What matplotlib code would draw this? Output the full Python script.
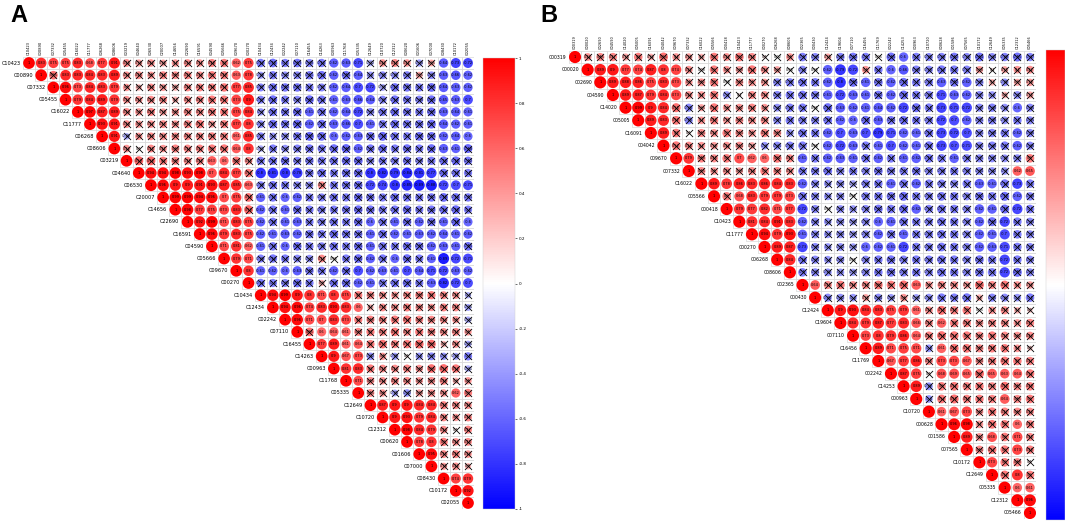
import numpy as np
import matplotlib
matplotlib.use("Agg")
import matplotlib.pyplot as plt
from matplotlib.patches import Circle, Rectangle
from matplotlib.collections import PatchCollection
from matplotlib.cm import ScalarMappable
from matplotlib.colors import Normalize

plt.rcParams['font.family'] = ['DejaVu Sans']

# ---- panel A ----
labels_a = ["C10423", "C00890", "C07332", "C05455", "C16022", "C11777", "C06268", "C08606",
            "C03219", "C04640", "C06530", "C20007", "C14656", "C22690", "C16591", "C04590",
            "C05666", "C09670", "C00270", "C10434", "C12434", "C02242", "C07110", "C16455",
            "C14263", "C00963", "C11768", "C05335", "C12649", "C10720", "C12312", "C00620",
            "C01606", "C07000", "C08430", "C10172", "C02055"]

# upper triangle, row i holds r(i, j) for j > i
upper_a = [
    [0.83, 0.75, 0.75, 0.83, 0.68, 0.77, 0.91, 0.45, 0.38, 0.42, 0.36, 0.40, 0.44, 0.41, 0.48, 0.50, 0.62, 0.75,
     -0.52, -0.55, -0.50, -0.53, -0.48, -0.51, -0.62, -0.63, -0.71, -0.32, 0.42, 0.46, 0.41, -0.38, 0.35, -0.64, -0.73, -0.72],
    [0.55, 0.83, 0.83, 0.84, 0.83, 0.89, 0.42, 0.45, 0.40, 0.46, 0.44, 0.47, 0.43, 0.50, 0.49, 0.63, 0.78,
     -0.38, -0.50, -0.42, -0.45, -0.51, -0.54, -0.62, -0.55, -0.64, -0.40, -0.45, -0.42, -0.48, 0.35, -0.44, -0.63, -0.66, -0.62],
    [0.96, 0.73, 0.84, 0.83, 0.79, 0.40, 0.30, 0.44, 0.38, 0.32, 0.45, 0.47, 0.48, 0.52, 0.77, 0.85,
     -0.47, -0.53, -0.52, -0.53, -0.50, -0.47, -0.62, -0.64, -0.70, -0.72, -0.35, -0.54, -0.52, -0.50, -0.56, -0.64, -0.63, -0.62],
    [0.79, 0.84, 0.89, 0.79, 0.42, 0.41, 0.44, 0.45, 0.30, 0.43, 0.46, 0.50, 0.51, 0.73, 0.90,
     -0.47, -0.55, -0.50, -0.45, -0.56, -0.52, -0.61, -0.63, -0.66, -0.64, -0.47, -0.54, -0.51, -0.48, -0.55, -0.65, -0.63, -0.70],
    [0.97, 0.87, 0.89, 0.44, 0.40, 0.48, 0.38, 0.41, 0.46, 0.45, 0.49, 0.50, 0.75, 0.84,
     -0.40, -0.52, -0.51, -0.56, -0.61, -0.53, -0.62, -0.64, -0.72, -0.45, -0.51, -0.55, -0.52, -0.50, -0.55, -0.63, -0.64, -0.61],
    [0.93, 0.91, 0.44, 0.40, 0.42, 0.45, 0.42, 0.47, 0.52, 0.38, 0.48, 0.77, 0.80,
     -0.44, -0.55, -0.52, -0.58, -0.62, -0.55, -0.63, -0.66, -0.70, -0.61, -0.50, -0.55, -0.53, -0.52, -0.57, -0.64, -0.62, -0.61],
    [0.91, -0.32, 0.40, 0.44, 0.42, 0.44, 0.45, 0.46, 0.48, 0.47, 0.61, 0.85,
     -0.47, -0.40, -0.42, -0.52, -0.58, -0.56, -0.60, -0.62, -0.63, -0.55, -0.58, -0.52, -0.50, -0.56, -0.55, -0.62, -0.64, -0.60],
    [0.42, 0.10, 0.45, 0.41, 0.48, 0.46, 0.47, 0.50, 0.52, 0.64, 0.80,
     -0.31, -0.50, -0.42, -0.48, -0.52, -0.50, -0.55, -0.58, -0.62, -0.52, -0.55, -0.50, -0.54, -0.50, -0.56, -0.63, -0.61, -0.58],
    [0.59, 0.58, 0.50, 0.47, 0.45, 0.48, 0.63, 0.60, 0.52, 0.45,
     -0.50, -0.52, -0.54, -0.48, -0.51, -0.50, -0.53, -0.55, -0.57, -0.45, -0.50, -0.48, -0.52, -0.46, -0.50, -0.55, -0.56, -0.52],
    [0.94, 0.94, 0.98, 0.93, 0.98, 0.70, 0.84, 0.77, 0.52,
     -0.80, -0.81, -0.80, -0.78, -0.52, -0.55, -0.50, -0.54, -0.57, -0.80, -0.82, -0.79, -0.84, -0.81, -0.77, -0.55, -0.52, -0.50],
    [0.96, 0.90, 0.90, 0.91, 0.93, 0.87, 0.85, 0.63,
     -0.48, -0.52, -0.50, -0.45, -0.42, 0.45, -0.50, -0.53, -0.55, -0.72, -0.74, -0.80, -0.85, -0.89, -0.88, -0.72, -0.70, -0.71],
    [0.99, 0.99, 0.94, 0.96, 0.70, 0.75, 0.55,
     -0.61, -0.52, -0.60, -0.62, -0.50, -0.48, -0.52, -0.50, -0.55, -0.52, -0.50, -0.55, -0.53, -0.50, -0.52, -0.56, -0.54, -0.51],
    [0.98, 0.77, 0.75, 0.73, 0.83, 0.58,
     -0.62, -0.52, -0.61, -0.55, -0.50, -0.48, -0.50, -0.52, -0.55, -0.53, -0.50, -0.52, -0.55, -0.50, -0.52, -0.54, -0.56, -0.50],
    [0.92, 0.99, 0.71, 0.83, 0.75,
     -0.62, -0.52, -0.61, -0.63, -0.50, -0.48, -0.52, -0.50, -0.55, -0.60, -0.52, -0.61, -0.55, -0.62, -0.54, -0.61, -0.58, -0.60],
    [0.96, 0.79, 0.83, 0.75,
     -0.62, -0.61, -0.63, -0.62, -0.52, -0.50, -0.55, -0.53, -0.52, -0.61, -0.55, -0.62, -0.61, -0.63, -0.62, -0.64, -0.61, -0.62],
    [0.71, 0.81, 0.62,
     -0.61, -0.52, -0.60, -0.55, -0.50, -0.48, -0.52, -0.50, -0.55, -0.61, -0.52, -0.50, -0.55, -0.53, -0.62, -0.63, -0.61, -0.55],
    [0.79, 0.71,
     -0.48, -0.52, -0.50, -0.45, -0.42, 0.45, 0.05, -0.50, -0.55, -0.62, -0.52, -0.60, -0.55, -0.50, -0.61, -0.89, -0.72, -0.71],
    [0.80,
     -0.61, -0.62, -0.60, -0.63, -0.52, -0.50, -0.62, -0.55, -0.70, -0.62, -0.63, -0.61, -0.70, -0.64, -0.71, -0.72, -0.63, -0.62],
    [-0.52, -0.50, -0.48, -0.55, -0.50, 0.30, -0.52, -0.55, -0.62, -0.61, -0.50, -0.52, -0.55, -0.50, -0.63, -0.82, -0.72, -0.70],
    [0.94, 0.99, 0.90, 0.80, 0.71, 0.80, 0.75, 0.50, 0.45, 0.42, 0.40, 0.44, 0.48, 0.50, 0.46, 0.41, -0.30],
    [0.94, 0.96, 0.74, 0.83, 0.93, 0.83, 0.60, 0.30, 0.45, 0.42, 0.48, 0.44, 0.41, 0.47, 0.45, -0.35],
    [0.96, 0.71, 0.70, 0.83, 0.73, 0.50, 0.48, 0.46, 0.50, 0.52, 0.47, 0.45, 0.44, 0.40, -0.32],
    [0.55, 0.60, 0.64, 0.61, 0.48, 0.50, 0.47, 0.52, 0.45, 0.50, 0.48, 0.44, 0.46, 0.40],
    [0.77, 0.89, 0.61, 0.64, 0.50, 0.55, 0.48, 0.52, 0.57, 0.56, 0.30, 0.42, -0.35],
    [0.90, 0.67, 0.73, -0.42, 0.40, -0.38, 0.10, -0.40, -0.45, -0.40, -0.36, -0.50],
    [0.81, 0.83, 0.50, 0.45, 0.44, 0.47, 0.42, 0.55, 0.57, 0.52, -0.31],
    [0.71, 0.45, 0.42, 0.46, 0.44, 0.41, 0.43, 0.48, 0.30, 0.40],
    [0.45, 0.40, -0.35, -0.42, 0.38, 0.42, 0.41, 0.62, 0.50],
    [0.87, 0.90, 0.90, 0.84, 0.84, 0.48, 0.45, 0.42],
    [0.90, 0.93, 0.79, 0.84, 0.45, 0.40, 0.46],
    [0.98, 0.84, 0.79, 0.44, 0.10, 0.47],
    [0.78, 0.80, 0.50, 0.42, 0.45],
    [0.95, 0.45, 0.47, 0.42],
    [0.38, 0.42, 0.30],
    [0.74, 0.79],
    [0.92],
    [],
]

# ---- panel B ----
labels_b = ["C00319", "C00020", "C02690", "C04590", "C14020", "C05005", "C16091", "C04042",
            "C09670", "C07332", "C16022", "C05566", "C00418", "C10423", "C11777", "C00270",
            "C06268", "C08606", "C02365", "C00430", "C12424", "C19604", "C07110", "C16456",
            "C11769", "C02242", "C14253", "C00963", "C10720", "C00628", "C01586", "C07565",
            "C10172", "C12649", "C05335", "C12312", "C05466"]

upper_b = [
    [0.42, 0.45, 0.47, 0.35, 0.50, 0.32, 0.55, 0.40, 0.38, 0.30, 0.50, 0.42, 0.52, 0.45, 0.10, 0.02, 0.40,
     -0.50, -0.45, 0.35, -0.48, -0.52, -0.50, 0.05, -0.55, -0.60, -0.50, -0.45, -0.48, -0.52, -0.46, -0.54, -0.44, -0.48, -0.55, -0.47],
    [0.89, 0.90, 0.77, 0.74, 0.87, 0.80, 0.74, 0.42, 0.08, 0.50, 0.40, 0.38, 0.52, 0.42, 0.35, 0.05,
     -0.45, 0.05, -0.62, -0.79, -0.72, 0.40, -0.50, -0.60, -0.66, -0.48, -0.45, -0.52, -0.50, -0.47, 0.38, 0.10, 0.35, 0.40, 0.42],
    [0.89, 0.88, 0.86, 0.75, 0.83, 0.73, 0.40, 0.42, 0.50, 0.05, 0.44, 0.40, 0.38, -0.45, -0.48,
     -0.52, -0.50, -0.62, -0.80, -0.55, -0.61, -0.52, -0.62, -0.55, -0.50, -0.48, -0.63, -0.52, -0.62, -0.46, 0.30, -0.42, 0.35, 0.38],
    [0.89, 0.87, 0.79, 0.84, 0.73, 0.42, 0.40, 0.50, -0.40, 0.10, 0.44, 0.42, -0.46, -0.50,
     -0.52, -0.48, -0.61, -0.72, -0.63, -0.61, -0.52, -0.62, -0.55, -0.50, -0.48, -0.71, -0.63, -0.62, -0.45, -0.40, 0.30, -0.42, 0.35],
    [0.99, 0.90, 0.84, 0.55, -0.45, 0.35, 0.52, 0.40, 0.42, 0.46, 0.40, -0.42, -0.48,
     -0.50, 0.05, -0.55, -0.63, -0.62, -0.61, -0.64, -0.62, -0.72, -0.55, -0.50, -0.73, -0.71, -0.72, -0.45, -0.48, -0.42, -0.60, -0.45],
    [0.89, 0.83, 0.52, -0.45, 0.40, 0.48, 0.38, 0.45, 0.42, 0.44, -0.43, -0.50,
     -0.48, -0.45, -0.52, -0.62, -0.60, -0.55, -0.63, -0.52, -0.55, -0.50, -0.48, -0.72, -0.70, -0.62, -0.45, -0.48, -0.42, -0.50, -0.45],
    [0.89, 0.50, 0.10, 0.45, 0.42, 0.50, 0.44, 0.40, 0.48, 0.45, -0.40,
     -0.52, -0.50, -0.62, -0.70, -0.63, -0.70, -0.79, -0.71, -0.62, -0.61, -0.52, -0.73, -0.72, -0.70, -0.45, -0.48, -0.50, -0.62, -0.46],
    [0.52, 0.45, 0.40, 0.38, 0.42, 0.44, 0.35, -0.40, -0.45, -0.48,
     -0.50, 0.05, -0.62, -0.72, -0.63, -0.50, -0.61, -0.70, -0.62, -0.61, -0.52, -0.73, -0.70, -0.71, -0.45, -0.48, -0.50, -0.62, -0.46],
    [0.79, 0.48, 0.45, 0.50, 0.70, 0.62, 0.60, 0.52, 0.45,
     -0.61, -0.50, -0.62, -0.63, -0.61, -0.52, -0.62, -0.50, -0.61, -0.62, -0.52, -0.50, -0.61, -0.48, -0.45, -0.44, -0.42, -0.45, 0.50],
    [0.45, 0.40, 0.42, 0.38, 0.44, 0.50, 0.45, 0.42,
     -0.50, -0.48, -0.52, -0.45, -0.50, -0.46, -0.52, -0.48, -0.50, -0.52, -0.45, -0.48, -0.50, -0.46, -0.44, -0.42, -0.40, 0.62, 0.65],
    [0.89, 0.78, 0.86, 0.83, 0.86, 0.84, 0.83,
     -0.62, -0.45, -0.40, -0.42, -0.35, -0.48, -0.50, -0.61, -0.52, -0.62, -0.50, -0.48, -0.45, -0.50, -0.63, -0.61, -0.52, -0.73, -0.50],
    [0.50, 0.68, 0.83, 0.79, 0.79, 0.73,
     -0.52, -0.45, -0.40, -0.42, 0.05, -0.48, -0.50, -0.52, -0.55, -0.50, -0.48, -0.52, -0.50, -0.45, -0.52, -0.50, -0.55, -0.62, -0.48],
    [0.79, 0.77, 0.82, 0.71, 0.77,
     -0.72, -0.45, 0.05, -0.42, -0.40, -0.45, -0.52, -0.50, -0.55, -0.62, -0.48, -0.52, -0.50, -0.45, -0.62, -0.61, -0.55, -0.72, -0.50],
    [0.81, 0.84, 0.91, 0.83,
     -0.62, -0.45, -0.40, -0.42, -0.38, -0.45, -0.60, -0.61, -0.52, -0.50, -0.48, -0.52, -0.50, -0.45, -0.62, -0.55, -0.72, -0.50, -0.45],
    [0.94, 0.79, 0.93,
     -0.61, -0.45, -0.40, -0.42, -0.38, -0.45, -0.62, -0.52, -0.61, -0.50, -0.48, -0.52, -0.50, -0.45, -0.62, -0.61, -0.70, -0.50, -0.45],
    [0.89, 0.87,
     -0.73, -0.45, -0.40, -0.42, -0.38, -0.60, -0.62, -0.61, -0.72, -0.50, -0.48, -0.52, -0.50, -0.45, -0.62, -0.63, -0.71, -0.50, -0.45],
    [0.84,
     -0.52, -0.45, -0.40, -0.42, 0.05, -0.45, -0.50, -0.52, -0.48, -0.50, -0.48, -0.52, -0.50, -0.45, -0.52, -0.50, -0.72, -0.50, -0.45],
    [-0.50, -0.45, -0.42, -0.40, -0.38, -0.45, -0.50, -0.52, -0.48, -0.50, -0.46, -0.52, -0.50, -0.45, -0.52, -0.50, -0.72, -0.55, -0.45],
    [0.64, 0.45, 0.50, 0.42, 0.44, 0.52, 0.50, 0.55, 0.63, 0.40, 0.45, 0.42, 0.38, 0.55, 0.44, 0.52, 0.40, 0.38],
    [-0.45, -0.42, -0.40, 0.35, -0.44, -0.38, 0.40, -0.36, -0.42, -0.50, -0.48, -0.52, 0.30, -0.46, -0.44, -0.40, -0.50],
    [0.90, 0.93, 0.84, 0.83, 0.75, 0.79, 0.61, 0.42, 0.55, 0.48, 0.50, 0.05, 0.40, 0.45, 0.30, 0.20],
    [0.84, 0.79, 0.87, 0.77, 0.83, 0.66, 0.45, 0.62, 0.50, 0.48, 0.42, 0.45, 0.44, 0.40, 0.47],
    [0.73, 0.80, 0.79, 0.86, 0.64, 0.48, 0.55, 0.52, 0.50, 0.46, 0.50, 0.45, 0.42, 0.44],
    [0.89, 0.71, 0.75, 0.71, -0.40, 0.61, 0.55, 0.52, 0.45, 0.48, 0.50, 0.40, 0.20],
    [0.67, 0.77, 0.86, 0.45, 0.73, 0.73, 0.67, 0.44, 0.48, 0.52, 0.50, 0.47],
    [0.87, 0.75, 0.10, 0.68, 0.69, 0.65, 0.57, 0.65, 0.63, 0.64, 0.52],
    [0.89, -0.42, 0.50, 0.52, 0.48, 0.50, 0.46, 0.55, 0.45, 0.49],
    [-0.40, 0.52, 0.55, 0.48, 0.50, 0.47, 0.64, 0.45, 0.50],
    [0.61, 0.67, 0.73, 0.42, 0.50, 0.47, 0.45, 0.44],
    [0.96, 0.98, 0.40, 0.52, 0.50, 0.60, 0.48],
    [0.89, 0.42, 0.68, 0.50, 0.71, 0.45],
    [0.45, 0.52, 0.50, 0.73, 0.48],
    [0.73, 0.50, 0.48, 0.10],
    [0.52, 0.80, 0.50],
    [0.60, 0.61],
    [0.96],
    [],
]

SIG = 0.6  # |r| below this is crossed out
cmap = plt.get_cmap('bwr')
norm = Normalize(-1, 1)


def full_matrix(upper):
    n = len(upper)
    m = np.eye(n)
    for i, row in enumerate(upper):
        for k, v in enumerate(row):
            m[i, i + 1 + k] = v
    return m


def fmt(v):
    return f"{v:.2f}".rstrip('0').rstrip('.')


def draw_corr(ax, labels, upper, lab_size, head_size):
    m = full_matrix(upper)
    n = len(labels)
    cells, circles, colors = [], [], []
    for i in range(n):
        for j in range(i, n):
            cells.append(Rectangle((j - 0.5, i - 0.5), 1, 1))
            v = m[i, j]
            circles.append(Circle((j, i), 0.48 * np.sqrt(abs(v))))
            colors.append(cmap(norm(v)))
    ax.add_collection(PatchCollection(cells, facecolor='white', edgecolor='#d4d4d4', lw=0.45))
    ax.add_collection(PatchCollection(circles, facecolor=colors, edgecolor='none'))
    xs, ys = [], []
    for i in range(n):
        for j in range(i, n):
            ax.text(j, i, fmt(m[i, j]), fontsize=2.5, ha='center', va='center', color='black')
            if abs(m[i, j]) < SIG:
                xs.append(j)
                ys.append(i)
    ax.scatter(xs, ys, marker='x', s=26, c='black', linewidths=0.6, zorder=3)
    for i, lab in enumerate(labels):
        ax.text(i - 0.65, i, lab, fontsize=lab_size, ha='right', va='center')
        ax.text(i, -0.65, lab, fontsize=head_size, ha='center', va='bottom', rotation=90)
    ax.set_xlim(-0.5, n - 0.5)
    ax.set_ylim(n - 0.5, -0.5)
    ax.axis('off')


W, H = 1065, 524
fig = plt.figure(figsize=(W / 100, H / 100), dpi=100)


def px_axes(x0, y0, x1, y1):
    return fig.add_axes([x0 / W, 1 - y1 / H, (x1 - x0) / W, (y1 - y0) / H])


ax_a = px_axes(22.9, 56.9, 474.1, 509.1)
draw_corr(ax_a, labels_a, upper_a, 3.6, 2.6)
ax_b = px_axes(568.7, 50.7, 1036.3, 519.3)
draw_corr(ax_b, labels_b, upper_b, 3.3, 2.5)

sm = ScalarMappable(norm=norm, cmap=cmap)
ticks = [1, 0.8, 0.6, 0.4, 0.2, 0, -0.2, -0.4, -0.6, -0.8, -1]

cax_a = px_axes(483, 58, 515, 509)
cb_a = fig.colorbar(sm, cax=cax_a, ticks=ticks)
cb_a.ax.set_yticklabels([fmt(t) if t != 0 else '0' for t in ticks])
cb_a.ax.tick_params(labelsize=3, length=1.5, width=0.4, pad=1)
cb_a.outline.set_linewidth(0.3)
cb_a.outline.set_edgecolor('#cccccc')

cax_b = px_axes(1046, 50, 1065, 520)
cb_b = fig.colorbar(sm, cax=cax_b)
cb_b.set_ticks([])
cb_b.outline.set_linewidth(0.3)
cb_b.outline.set_edgecolor('#cccccc')

fig.text(10 / W, 1 - 22 / H, 'A', fontsize=17, fontweight='bold', family='Liberation Sans', va='baseline')
fig.text(540 / W, 1 - 22 / H, 'B', fontsize=17, fontweight='bold', family='Liberation Sans', va='baseline')

fig.savefig('out.png', dpi=100)
